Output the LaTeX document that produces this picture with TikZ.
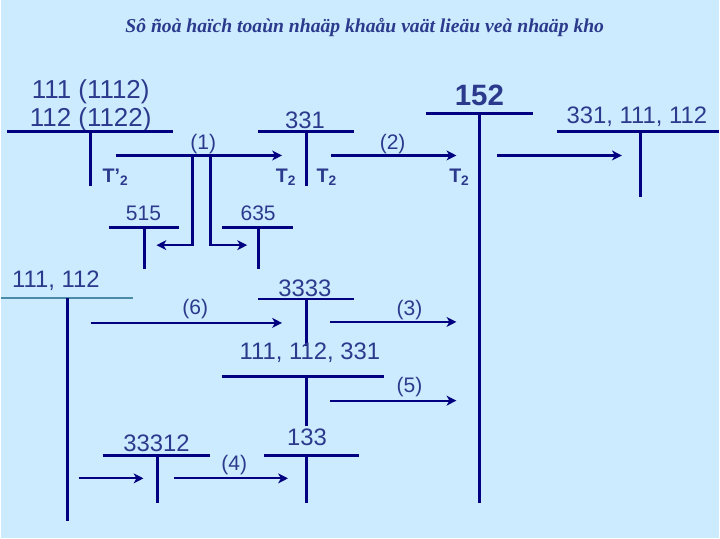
\documentclass[tikz,border=0pt]{standalone}
\usepackage{fontspec}
\setmainfont{Liberation Sans}
\newfontfamily\titlefont{Liberation Serif}
\usetikzlibrary{arrows.meta}
\definecolor{bg}{HTML}{CCEBFE}
\definecolor{ink}{HTML}{000080}
\definecolor{txt}{HTML}{2B3A8C}
\definecolor{steel}{HTML}{4A8CA8}
\tikzset{
  acc/.style={draw=ink, line width=2.1pt},
  accthin/.style={draw=steel, line width=1.4pt},
  flow/.style={draw=ink, line width=1.5pt, -{Stealth[length=7pt,width=7pt,inset=2pt]}},
  branch/.style={draw=ink, line width=1.8pt, -{Stealth[length=7pt,width=7pt,inset=2pt]}},
  ttl/.style={text=txt, font=\titlefont\bfseries\itshape\fontsize{14}{16}\selectfont, inner sep=0pt},
  top/.style={text=txt, font=\fontsize{18.5}{20}\selectfont, inner sep=0pt},
  big/.style={text=txt, font=\fontsize{17}{19}\selectfont, inner sep=0pt},
  small/.style={text=txt, font=\fontsize{15}{17}\selectfont, inner sep=0pt},
  tlab/.style={text=txt, font=\bfseries\fontsize{14}{16}\selectfont, inner sep=0pt},
  head/.style={text=txt, font=\bfseries\fontsize{21}{23}\selectfont, inner sep=0pt},
}

\begin{document}
\begin{tikzpicture}[x=0.025cm,y=-0.025cm]
  \fill[bg] (0,0) rectangle (720,540);
  \node[ttl] (title) at (365,28) {Sô ñoà haïch toaùn nhaäp khaåu vaät lieäu veà nhaäp kho};

  \node[top] (n111a) at (90,92) {111 (1112)};
  \node[top] (n112a) at (90,120) {112 (1122)};
  \draw[acc] (6,132) -- (173,132) (90,132) -- (90,187);
  \node[tlab] (tp) at (115,178) {T’\textsubscript{2}};

  \node[big] (n331) at (305,121) {331};
  \draw[acc] (258,132) -- (354,132) (307,132) -- (307,187);
  \node[tlab] (tl331) at (286,178) {T\textsubscript{2}};
  \node[tlab] (tr331) at (327,178) {T\textsubscript{2}};

  \node[head] (n152) at (480,96) {152};
  \draw[acc] (426,114) -- (534,114) (480,114) -- (480,505);
  \node[tlab] (t152) at (460,178) {T\textsubscript{2}};

  \node[big] (nout) at (638,117) {331, 111, 112};
  \draw[acc] (558,132) -- (720,132) (642,132) -- (642,198);

  \node[small] (n515) at (143,214) {515};
  \draw[acc] (108,228) -- (179,228) (144,228) -- (144,270);
  \node[small] (n635) at (258,214) {635};
  \draw[acc] (222,228) -- (293,228) (258,228) -- (258,270);

  \node[big] (nkho) at (55,282) {111, 112};
  \draw[accthin] (0,299) -- (132,299);
  \draw[acc] (67,299) -- (67,523);

  \node[big] (n3333) at (305,289) {3333};
  \draw[acc] (258,300) -- (354,300) (307,300) -- (307,347);

  \node[big] (nmix) at (310,354) {111, 112, 331};
  \draw[acc] (222,378) -- (384,378) (307,378) -- (307,427);

  \node[big] (n33312) at (156,445) {33312};
  \draw[acc] (102,457) -- (210,457) (157,457) -- (157,505);
  \node[big] (n133) at (307,439) {133};
  \draw[acc] (264,457) -- (359,457) (307,457) -- (307,505);

  \coordinate (f1a) at (115,156); \coordinate (f1b) at (282,156);
  \coordinate (b1a) at (192,156); \coordinate (b1b) at (156,246);
  \coordinate (b2a) at (210,156); \coordinate (b2b) at (247,246);
  \coordinate (f2a) at (331,156); \coordinate (f2b) at (457,156);
  \coordinate (f7a) at (498,156); \coordinate (f7b) at (623,156);
  \coordinate (f6a) at (90,324);  \coordinate (f6b) at (282,324);
  \coordinate (f3a) at (330,323); \coordinate (f3b) at (457,323);
  \coordinate (f5a) at (330,402); \coordinate (f5b) at (457,402);
  \coordinate (f8a) at (78,480);  \coordinate (f8b) at (143,480);
  \coordinate (f4a) at (174,480); \coordinate (f4b) at (288,480);

  \draw[flow] (f1a) -- (f1b);
  \draw[branch] (b1a) |- (b1b);
  \draw[branch] (b2a) |- (b2b);
  \draw[flow] (f2a) -- (f2b);
  \draw[flow] (f7a) -- (f7b);
  \draw[flow] (f6a) -- (f6b);
  \draw[flow] (f3a) -- (f3b);
  \draw[flow] (f5a) -- (f5b);
  \draw[flow] (f8a) -- (f8b);
  \draw[flow] (f4a) -- (f4b);

  \node[small] (l1) at (203,145) {(1)};
  \node[small] (l2) at (393,145) {(2)};
  \node[small] (l6) at (195,310) {(6)};
  \node[small] (l3) at (410,311) {(3)};
  \node[small] (l5) at (410,388) {(5)};
  \node[small] (l4) at (234,467) {(4)};
\end{tikzpicture}
\end{document}
